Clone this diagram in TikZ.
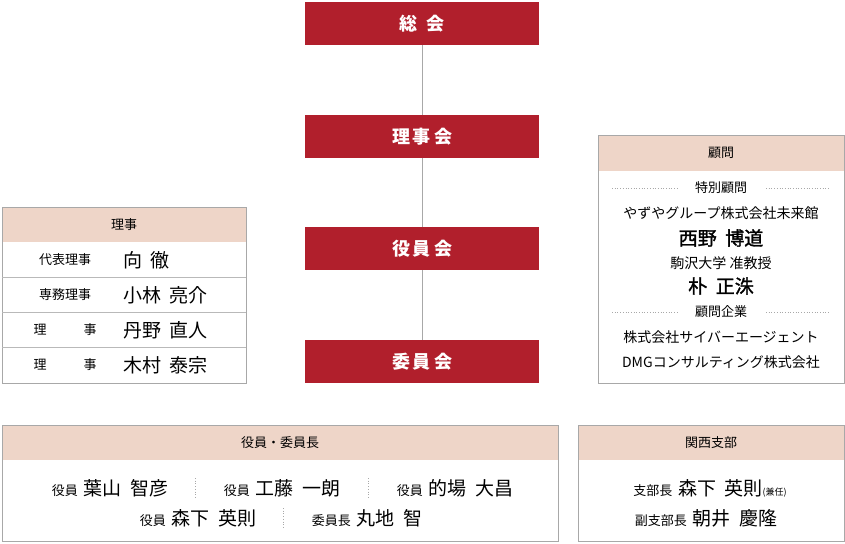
\documentclass[tikz,border=0pt]{standalone}
\usepackage{fontspec}
\setmainfont{Noto Sans CJK JP}
\newfontfamily\jpbold[FakeBold=1.5]{Noto Sans CJK JP}
\definecolor{orgred}{HTML}{B11F2C}
\definecolor{headbg}{HTML}{EED5C8}
\definecolor{frame}{HTML}{A8A8A8}
\newcommand{\gap}{\hspace{0.45em}}
\newcommand{\lab}{\fontsize{13}{13}\selectfont}
\newcommand{\nam}{\fontsize{19}{19}\selectfont}
\tikzset{
  redbox/.style={fill=orgred, minimum width=234pt, minimum height=43pt, inner sep=0pt,
    text=white, font=\fontsize{18}{18}\selectfont\bfseries},
  panel/.style={draw=frame, line width=1pt, fill=white},
  head/.style={fill=headbg},
  small/.style={font=\lab, inner sep=0pt},
  big/.style={font=\nam, inner sep=0pt},
  sep/.style={draw=frame, dotted, line width=0.7pt},
  info/.style={font=\fontsize{14}{14}\selectfont, inner sep=0pt},
  infobig/.style={font=\fontsize{19}{19}\selectfont\jpbold, inner sep=0pt}
}
\begin{document}
\begin{tikzpicture}[x=1pt, y=-1pt]
\useasboundingbox (0,0) rectangle (845,543);

% main chain
\node[redbox] (soukai) at (422,23.5) {総\gap 会};
\node[redbox] (rijikai) at (422,136.5) {理\,事\,会};
\node[redbox] (yakuin) at (422,248.5) {役\,員\,会};
\node[redbox] (iinkai) at (422,361.5) {委\,員\,会};
\draw[frame, line width=0.8pt] (soukai) -- (rijikai) -- (yakuin) -- (iinkai);

% riji panel
\draw[panel] (2,207) rectangle (246,383);
\fill[head] (2.5,207.5) rectangle (245.5,242);
\draw[frame, line width=1pt] (2,207) rectangle (246,383);
\foreach \y in {277,312,347} \draw[frame!80, line width=0.8pt] (2,\y) -- (246,\y);
\node[small] (rijiH) at (124,224.5) {理事};
\node[small] (r1) at (65,260) {代表理事};
\node[big, anchor=west] (n1) at (123,260) {向\gap 徹};
\node[small] (r2) at (65,295) {専務理事};
\node[big, anchor=west] (n2) at (123,295) {小林\gap 亮介};
\node[small] (r3a) at (40,330) {理}; \node[small] (r3b) at (90,330) {事};
\node[big, anchor=west] (n3) at (123,330) {丹野\gap 直人};
\node[small] (r4a) at (40,365) {理}; \node[small] (r4b) at (90,365) {事};
\node[big, anchor=west] (n4) at (123,365) {木村\gap 泰宗};

% komon panel
\draw[panel] (598,135) rectangle (844,383);
\fill[head] (598.5,135.5) rectangle (843.5,171);
\draw[frame, line width=1pt] (598,135) rectangle (844,383);
\node[small] (komonH) at (721,153) {顧問};
\node[small] (tokubetsu) at (721,188) {特別顧問};
\draw[sep] (612,188) -- (678,188); \draw[sep] (766,188) -- (830,188);
\node[info] (k1) at (721,213) {やずやグループ株式会社未来館};
\node[infobig] (k2) at (721,238) {西野\gap 博道};
\node[info] (k3) at (721,263) {駒沢大学 准教授};
\node[infobig] (k4) at (721,286) {朴\gap 正洙};
\node[small] (kigyou) at (721,312) {顧問企業};
\draw[sep] (612,312) -- (678,312); \draw[sep] (766,312) -- (830,312);
\node[info] (k5) at (721,337) {株式会社サイバーエージェント};
\node[info] (k6) at (721,362) {DMGコンサルティング株式会社};

% yakuin panel
\draw[panel] (2,425) rectangle (558,541);
\fill[head] (2.5,425.5) rectangle (557.5,460);
\draw[frame, line width=1pt] (2,425) rectangle (558,541);
\node[small] (yakuinH) at (280,442.5) {役員・委員長};
\node[inner sep=0pt] (y1) at (110,488) {\lab 役員\gap\nam 葉山\gap 智彦};
\node[inner sep=0pt] (y2) at (282,488) {\lab 役員\gap\nam 工藤\gap 一朗};
\node[inner sep=0pt] (y3) at (455,488) {\lab 役員\gap\nam 的場\gap 大昌};
\node[inner sep=0pt] (y4) at (198,518) {\lab 役員\gap\nam 森下\gap 英則};
\node[inner sep=0pt] (y5) at (367,518) {\lab 委員長\gap\nam 丸地\gap 智};
\draw[sep] (195,478) -- (195,498);
\draw[sep] (368,478) -- (368,498);
\draw[sep] (283,508) -- (283,528);

% kansai panel
\draw[panel] (578,425) rectangle (844,541);
\fill[head] (578.5,425.5) rectangle (843.5,460);
\draw[frame, line width=1pt] (578,425) rectangle (844,541);
\node[small] (kansaiH) at (711,442.5) {関西支部};
\node[inner sep=0pt] (s1) at (710,488) {\lab 支部長\gap\nam 森下\gap 英則\fontsize{9}{9}\selectfont(兼任)};
\node[inner sep=0pt] (s2) at (706,518) {\lab 副支部長\gap\nam 朝井\gap 慶隆};
\end{tikzpicture}
\end{document}
